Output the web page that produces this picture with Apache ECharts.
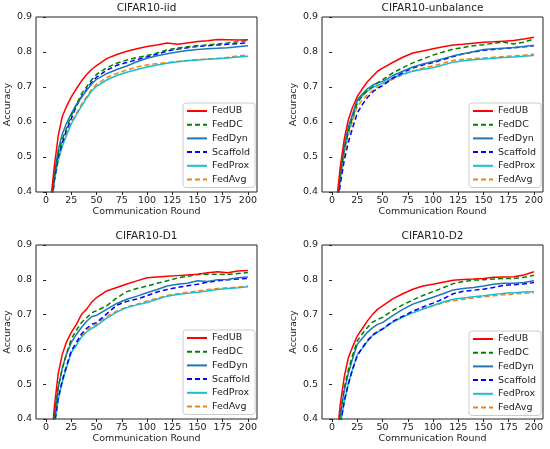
<!DOCTYPE html>
<html>
<head>
    <meta charset="utf-8">
    <title>CIFAR10 accuracy</title>
    <style>
        html, body { margin: 0; padding: 0; background: #fff; }
        #main { width: 550px; height: 449px; }
    </style>
</head>
<body>
    <div id="main"></div>
    <script src="https://cdn.jsdelivr.net/npm/echarts@6/dist/echarts.min.js"></script>
    <script type="text/javascript">

        const ROUNDS = [0, 4, 8, 12, 16, 20, 25, 30, 35, 40, 45, 50, 60, 70, 80, 90, 100,
            110, 120, 130, 140, 150, 160, 170, 180, 190, 200];
        const METHODS = ['FedUB', 'FedDC', 'FedDyn', 'Scaffold', 'FedProx', 'FedAvg'];
        const TITLES = ['CIFAR10-iid', 'CIFAR10-unbalance', 'CIFAR10-D1', 'CIFAR10-D2'];
        const X_TICKS = [0, 25, 50, 75, 100, 125, 150, 175, 200];

        // one row per method, same order as METHODS
        const IID = [
            [0.15, 0.36, 0.47, 0.56, 0.615, 0.643, 0.672, 0.695, 0.717, 0.735, 0.75, 0.761, 0.781, 0.793, 0.802, 0.809, 0.816, 0.82, 0.826, 0.822, 0.826, 0.83, 0.832, 0.836, 0.835, 0.834, 0.835],
            [0.12, 0.33, 0.44, 0.51, 0.55, 0.58, 0.619, 0.65, 0.68, 0.70, 0.72, 0.736, 0.755, 0.768, 0.777, 0.784, 0.79, 0.797, 0.806, 0.811, 0.815, 0.818, 0.82, 0.823, 0.826, 0.829, 0.833],
            [0.12, 0.33, 0.45, 0.52, 0.565, 0.595, 0.624, 0.65, 0.67, 0.69, 0.708, 0.722, 0.738, 0.75, 0.76, 0.772, 0.782, 0.789, 0.795, 0.80, 0.804, 0.807, 0.809, 0.811, 0.812, 0.815, 0.818],
            [0.11, 0.32, 0.43, 0.50, 0.54, 0.575, 0.61, 0.645, 0.672, 0.693, 0.713, 0.728, 0.748, 0.762, 0.77, 0.778, 0.786, 0.794, 0.803, 0.808, 0.812, 0.816, 0.818, 0.82, 0.822, 0.824, 0.826],
            [0.11, 0.31, 0.43, 0.49, 0.53, 0.56, 0.595, 0.62, 0.645, 0.668, 0.688, 0.702, 0.72, 0.733, 0.742, 0.75, 0.757, 0.763, 0.768, 0.772, 0.775, 0.777, 0.779, 0.781, 0.783, 0.786, 0.788],
            [0.11, 0.32, 0.43, 0.49, 0.535, 0.565, 0.60, 0.625, 0.65, 0.672, 0.693, 0.708, 0.727, 0.739, 0.749, 0.757, 0.763, 0.767, 0.77, 0.773, 0.776, 0.778, 0.78, 0.782, 0.785, 0.789, 0.791]
        ];
        const UNBALANCE = [
            [0.14, 0.36, 0.47, 0.55, 0.605, 0.64, 0.673, 0.695, 0.715, 0.73, 0.745, 0.754, 0.77, 0.785, 0.797, 0.803, 0.809, 0.815, 0.82, 0.822, 0.825, 0.828, 0.829, 0.831, 0.833, 0.837, 0.842],
            [0.12, 0.33, 0.44, 0.52, 0.57, 0.61, 0.654, 0.675, 0.69, 0.70, 0.712, 0.721, 0.74, 0.755, 0.769, 0.78, 0.791, 0.80, 0.808, 0.813, 0.818, 0.821, 0.825, 0.828, 0.823, 0.828, 0.837],
            [0.12, 0.33, 0.45, 0.53, 0.585, 0.62, 0.664, 0.68, 0.695, 0.705, 0.712, 0.716, 0.732, 0.745, 0.757, 0.766, 0.773, 0.781, 0.789, 0.795, 0.801, 0.807, 0.809, 0.811, 0.813, 0.816, 0.819],
            [0.11, 0.32, 0.42, 0.49, 0.54, 0.58, 0.626, 0.65, 0.67, 0.685, 0.696, 0.704, 0.725, 0.741, 0.754, 0.763, 0.77, 0.778, 0.787, 0.795, 0.80, 0.805, 0.807, 0.81, 0.812, 0.815, 0.818],
            [0.12, 0.33, 0.44, 0.52, 0.575, 0.615, 0.659, 0.675, 0.688, 0.698, 0.705, 0.711, 0.725, 0.737, 0.745, 0.751, 0.755, 0.763, 0.771, 0.775, 0.778, 0.78, 0.782, 0.784, 0.786, 0.788, 0.79],
            [0.11, 0.32, 0.43, 0.50, 0.56, 0.60, 0.645, 0.663, 0.678, 0.69, 0.70, 0.707, 0.722, 0.735, 0.746, 0.754, 0.76, 0.768, 0.776, 0.779, 0.781, 0.783, 0.785, 0.787, 0.789, 0.791, 0.794]
        ];
        const D1 = [
            [0.10, 0.28, 0.43, 0.53, 0.585, 0.62, 0.649, 0.672, 0.70, 0.715, 0.735, 0.749, 0.768, 0.778, 0.788, 0.797, 0.806, 0.808, 0.81, 0.812, 0.814, 0.816, 0.82, 0.823, 0.82, 0.825, 0.827],
            [0.09, 0.26, 0.40, 0.49, 0.545, 0.585, 0.63, 0.655, 0.677, 0.69, 0.705, 0.711, 0.725, 0.748, 0.766, 0.775, 0.782, 0.79, 0.797, 0.805, 0.81, 0.815, 0.816, 0.816, 0.815, 0.818, 0.821],
            [0.09, 0.26, 0.40, 0.49, 0.545, 0.585, 0.62, 0.643, 0.663, 0.68, 0.694, 0.698, 0.715, 0.732, 0.744, 0.753, 0.763, 0.772, 0.782, 0.787, 0.79, 0.797, 0.795, 0.80, 0.801, 0.806, 0.808],
            [0.08, 0.24, 0.38, 0.46, 0.51, 0.55, 0.596, 0.62, 0.644, 0.66, 0.672, 0.677, 0.702, 0.727, 0.738, 0.745, 0.754, 0.765, 0.772, 0.778, 0.783, 0.787, 0.793, 0.797, 0.80, 0.802, 0.804],
            [0.08, 0.23, 0.37, 0.455, 0.505, 0.545, 0.591, 0.612, 0.635, 0.65, 0.66, 0.668, 0.69, 0.707, 0.72, 0.728, 0.735, 0.744, 0.753, 0.758, 0.761, 0.764, 0.768, 0.772, 0.775, 0.777, 0.78],
            [0.08, 0.24, 0.38, 0.46, 0.51, 0.55, 0.596, 0.615, 0.639, 0.655, 0.665, 0.672, 0.695, 0.71, 0.722, 0.73, 0.739, 0.747, 0.755, 0.76, 0.764, 0.768, 0.772, 0.775, 0.777, 0.779, 0.782]
        ];
        const D2 = [
            [0.12, 0.32, 0.44, 0.52, 0.575, 0.605, 0.639, 0.66, 0.682, 0.70, 0.715, 0.725, 0.745, 0.76, 0.773, 0.782, 0.787, 0.793, 0.799, 0.801, 0.802, 0.804, 0.807, 0.808, 0.809, 0.814, 0.823],
            [0.10, 0.29, 0.41, 0.49, 0.54, 0.58, 0.625, 0.645, 0.663, 0.678, 0.686, 0.692, 0.712, 0.728, 0.742, 0.755, 0.766, 0.777, 0.789, 0.795, 0.799, 0.80, 0.802, 0.804, 0.804, 0.807, 0.813],
            [0.10, 0.29, 0.41, 0.48, 0.53, 0.57, 0.615, 0.632, 0.649, 0.662, 0.672, 0.677, 0.697, 0.715, 0.73, 0.74, 0.75, 0.76, 0.771, 0.775, 0.778, 0.782, 0.787, 0.79, 0.79, 0.792, 0.797],
            [0.09, 0.27, 0.38, 0.45, 0.50, 0.54, 0.582, 0.605, 0.625, 0.64, 0.65, 0.658, 0.68, 0.695, 0.71, 0.722, 0.733, 0.745, 0.76, 0.767, 0.77, 0.773, 0.778, 0.784, 0.786, 0.788, 0.792],
            [0.09, 0.27, 0.38, 0.45, 0.50, 0.54, 0.585, 0.603, 0.623, 0.64, 0.65, 0.658, 0.678, 0.693, 0.705, 0.716, 0.726, 0.736, 0.744, 0.748, 0.751, 0.754, 0.758, 0.761, 0.763, 0.765, 0.766],
            [0.09, 0.27, 0.38, 0.45, 0.50, 0.54, 0.587, 0.605, 0.625, 0.642, 0.652, 0.66, 0.68, 0.695, 0.706, 0.716, 0.725, 0.734, 0.74, 0.744, 0.748, 0.751, 0.754, 0.757, 0.759, 0.761, 0.763]
        ];
        const PANELS = [IID, UNBALANCE, D1, D2];

        const COLORS = ['#ff0000', '#008000', '#1f77b4', '#0000ff', '#17becf', '#ff7f0e'];
        const DASHED = [false, true, false, true, false, true];
        const FONT = 'DejaVu Sans';

        // plot boxes, in pixels
        const BOXES = [
            {left: 36, top: 17, width: 221, height: 175},
            {left: 322, top: 17, width: 221, height: 175},
            {left: 36, top: 245, width: 221, height: 174},
            {left: 322, top: 245, width: 221, height: 174}
        ];
        const LEGEND_POS = [
            {left: 183, top: 103},
            {left: 469, top: 103},
            {left: 183, top: 330},
            {left: 469, top: 331}
        ];

        let grids = [], xAxes = [], yAxes = [], titles = [], legends = [], series = [];

        for (let p = 0; p < PANELS.length; p++) {
            const box = BOXES[p];
            grids.push({
                left: box.left, top: box.top, width: box.width, height: box.height,
                show: true, borderColor: '#222', borderWidth: 1, backgroundColor: '#fff'
            });
            titles.push({
                text: TITLES[p],
                left: box.left + box.width / 2,
                top: box.top - 14,
                textAlign: 'center',
                padding: 0,
                textStyle: {fontFamily: FONT, fontSize: 10.5, fontWeight: 'normal', color: '#222'}
            });
            xAxes.push({
                type: 'value', gridIndex: p, min: -10, max: 209,
                name: 'Communication Round', nameLocation: 'middle', nameGap: 15,
                nameTextStyle: {fontFamily: FONT, fontSize: 9.5, color: '#222'},
                axisLine: {show: false},
                axisTick: {show: true, length: 3, customValues: X_TICKS, lineStyle: {color: '#222'}},
                axisLabel: {customValues: X_TICKS, margin: 4, fontFamily: FONT, fontSize: 9.5, color: '#222'},
                splitLine: {show: false}
            });
            yAxes.push({
                type: 'value', gridIndex: p, min: 0.4, max: 0.9, interval: 0.1,
                name: 'Accuracy', nameLocation: 'middle', nameGap: 22,
                nameTextStyle: {fontFamily: FONT, fontSize: 9.5, color: '#222'},
                axisLine: {show: false},
                axisTick: {show: true, length: 3, lineStyle: {color: '#222'}},
                axisLabel: {
                    margin: 4, fontFamily: FONT, fontSize: 9.5, color: '#222',
                    formatter: v => v.toFixed(1)
                },
                splitLine: {show: false}
            });
            legends.push({
                orient: 'vertical',
                left: LEGEND_POS[p].left, top: LEGEND_POS[p].top,
                data: METHODS,
                itemWidth: 20, itemHeight: 10, itemGap: 3.7,
                padding: [3, 5, 3, 3],
                backgroundColor: 'rgba(255,255,255,0.8)',
                borderColor: '#ccc', borderWidth: 1, borderRadius: 3,
                selectedMode: false,
                // hide the dot in the middle of each legend line
                itemStyle: {opacity: 0},
                textStyle: {fontFamily: FONT, fontSize: 9.5, color: '#222'}
            });
            for (let m = 0; m < METHODS.length; m++) {
                series.push({
                    name: METHODS[m],
                    type: 'line',
                    xAxisIndex: p, yAxisIndex: p,
                    data: ROUNDS.map((r, i) => [r, PANELS[p][m][i]]),
                    showSymbol: false, symbol: 'none',
                    clip: true,
                    z: 10 - m,
                    color: COLORS[m],
                    lineStyle: {width: 1.5, color: COLORS[m], type: DASHED[m] ? [5, 3] : 'solid'}
                });
            }
        }

        let myChart = echarts.init(document.getElementById('main'));
        myChart.setOption({
            animation: false,
            backgroundColor: '#fff',
            title: titles,
            legend: legends,
            grid: grids,
            xAxis: xAxes,
            yAxis: yAxes,
            series: series
        });

    </script>
</body>
</html>
